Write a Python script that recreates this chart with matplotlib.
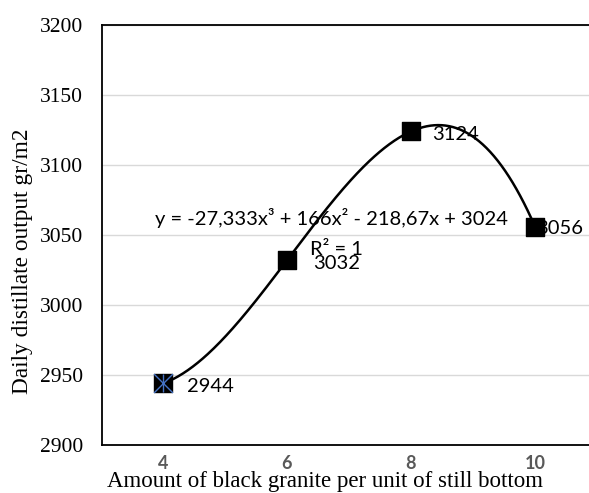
import numpy as np
from matplotlib import pyplot as plt

granite = [4, 6, 8, 10]
output = [2944, 3032, 3124, 3056]
# trendline coefficients shown on the chart (x = point index 1..4)
coef = [-27.333, 166, -218.67, 3024]
y_ticks = [2900, 2950, 3000, 3050, 3100, 3150, 3200]

fig = plt.figure(figsize=(5.89, 4.93), dpi=100)
ax = fig.add_axes([102 / 589, 48 / 493, 487 / 589, 420 / 493])

# trendline
xs = np.linspace(granite[0], granite[-1], 300)
t = (xs - 2) / 2
ax.plot(xs, np.polyval(coef, t), color='black', lw=1.8, zorder=3)

ax.scatter(granite, output, marker='s', s=185, color='black', zorder=4)
ax.scatter(granite[:1], output[:1], marker='x', s=185, color='#4472c4', lw=1, zorder=5)
ax.scatter(granite[:1], output[:1], marker='|', s=185, color='#4472c4', lw=1, zorder=5)

lab_font = dict(family='Lato', fontsize=14.5, color='black')
offsets = [(0.38, -2), (0.42, -2), (0.34, -2), (0.02, -1)]
for x, y, (dx, dy) in zip(granite, output, offsets):
    ax.text(x + dx, y + dy, str(y), ha='left', va='center', zorder=2, **lab_font)

ax.text(3.87, 3062, 'y = -27,333x³ + 166x² - 218,67x + 3024', ha='left', va='center',
        zorder=2, **lab_font)
ax.text(6.37, 3040, 'R² = 1', ha='left', va='center', zorder=2, **lab_font)

ax.set_xlim(4 - 61 / 62, 4 + 426 / 62)
ax.set_ylim(2900, 3200)
ax.set_yticks(y_ticks)
ax.set_yticklabels([str(v) for v in y_ticks], family='Liberation Serif', fontsize=15.5)
ax.set_xticks(granite)
ax.set_xticklabels([str(v) for v in granite], family='Lato', fontweight='bold', fontsize=13,
                   color='#595959')
ax.tick_params(axis='both', length=0)
ax.tick_params(axis='y', pad=13.5)
ax.tick_params(axis='x', pad=7.5)
ax.grid(axis='y', color='#d9d9d9', lw=1)
ax.set_axisbelow(True)
ax.spines['right'].set_visible(False)
for s in ['top', 'left', 'bottom']:
    ax.spines[s].set_linewidth(1.3)
    ax.spines[s].set_color('black')

fig.text(23 / 589, 1 - 261 / 493, 'Daily distillate output gr/m2', family='Liberation Serif',
         fontsize=16.8, rotation=90, ha='center', va='center')
fig.text(325 / 589, 1 - 481 / 493, 'Amount of black granite per unit of still bottom',
         family='Liberation Serif', fontsize=16.5, ha='center', va='center')

fig.savefig('out.png', dpi=100)
